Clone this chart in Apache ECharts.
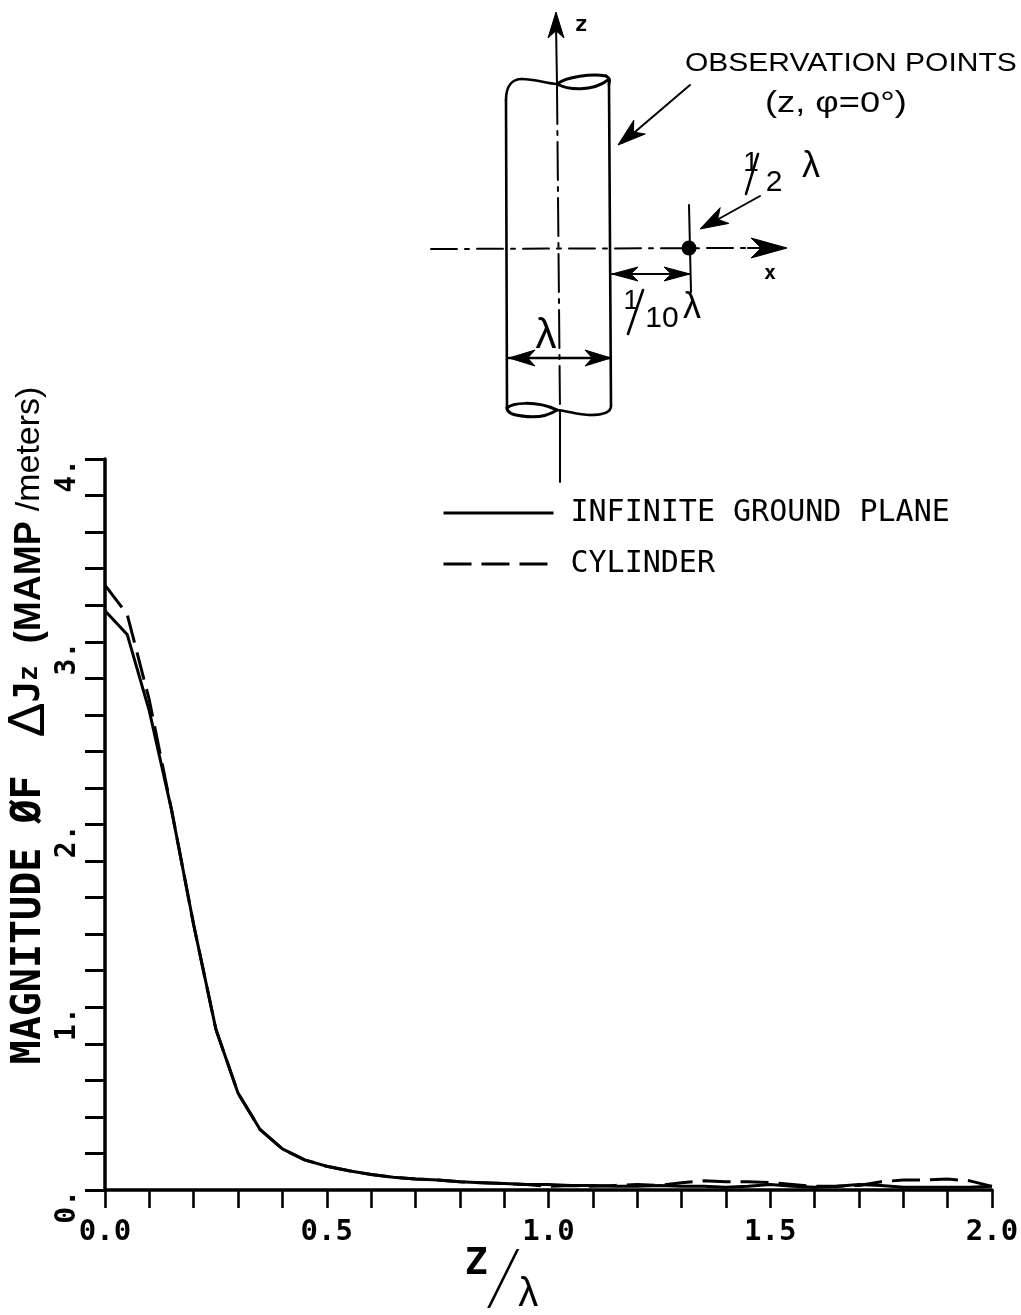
<!DOCTYPE html>
<html><head><meta charset="utf-8">
<script src="https://cdn.jsdelivr.net/npm/echarts@6/dist/echarts.min.js"></script>
<style>html,body{margin:0;padding:0;background:#fff}#c{width:1021px;height:1315px}</style>
</head><body><div id="c"></div>
<script>
const zOverLambda = [0,.05,.1,.15,.2,.25,.3,.35,.4,.45,.5,.55,.6,.65,.7,.75,.8,.85,.9,.95,1,1.05,1.1,1.15,1.2,1.25,1.3,1.35,1.4,1.45,1.5,1.55,1.6,1.65,1.7,1.75,1.8,1.85,1.9,1.95,2];
const infiniteGroundPlane = [3.17,3.04,2.62,2.08,1.45,.88,.53,.33,.225,.165,.13,.105,.085,.07,.06,.055,.045,.04,.035,.03,.03,.025,.025,.02,.02,.025,.02,.02,.015,.02,.03,.02,.015,.02,.03,.025,.015,.015,.015,.015,.02];
const cylinder = [3.31,3.15,2.68,2.08,1.45,.88,.53,.33,.225,.165,.13,.105,.085,.07,.06,.055,.045,.04,.035,.03,.02,.025,.02,.025,.03,.025,.04,.05,.045,.045,.04,.03,.02,.02,.025,.045,.055,.055,.06,.05,.02];
const seriesNames = ['INFINITE GROUND PLANE','CYLINDER'];
const yTitle = '{m|MAGNITUDE ØF }{d|Δ}{j|J}{z|z}{p| (MAMP }{u|/meters)}';
const xTitle = '{z|Z}{s|/}{l|λ}';

const MONO = '"DejaVu Sans Mono"', SANS = '"Liberation Sans"';
const ink = '#000';
const stroke = (w, dash) => ({stroke: ink, fill: null, lineWidth: w, lineDash: dash || null, lineCap: 'round'});
const line = (x1, y1, x2, y2, w, dash) => ({type: 'line', silent: true, shape: {x1, y1, x2, y2}, style: stroke(w, dash)});
const bez = (x1, y1, cpx1, cpy1, cpx2, cpy2, x2, y2, w) => ({type: 'bezierCurve', silent: true, shape: {x1, y1, cpx1, cpy1, cpx2, cpy2, x2, y2}, style: stroke(w)});
function head(xt, yt, xf, yf, len, half) {
  const a = Math.atan2(yf - yt, xf - xt), c = Math.cos(a), s = Math.sin(a);
  const bx = xt + len * c, by = yt + len * s, nx = xt + len * .72 * c, ny = yt + len * .72 * s;
  return {type: 'polygon', silent: true, shape: {points: [[xt, yt], [bx - half * s, by + half * c], [nx, ny], [bx + half * s, by - half * c]]}, style: {fill: ink, stroke: ink, lineWidth: 1}};
}
const txt = (x, y, text, font, size, o) => Object.assign({type: 'text', silent: true, x, y, style: {text, x: 0, y: 0, fill: ink, font: (o && o.w || 'normal') + ' ' + size + 'px ' + font, textAlign: o && o.a || 'left', textVerticalAlign: 'middle'}}, o && o.sx ? {scaleX: o.sx} : {});

const graphic = [
  // z axis
  line(556, 25, 557, 84, 2),
  line(557, 86, 560, 412, 2, [38, 7, 4, 7]),
  line(560, 412, 560, 482, 2),
  head(556, 12, 556, 40, 26, 8),
  // cylinder outline
  line(506, 100, 507, 408, 2.6),
  line(609, 84, 611, 406, 2.6),
  bez(506, 100, 506, 86, 512, 79, 522, 79, 2.6),
  bez(522, 79, 535, 79, 548, 84, 557, 84, 2.6),
  bez(557, 84, 566, 77, 592, 73, 606, 76, 3),
  bez(606, 76, 610, 78, 610, 80, 609, 84, 3),
  bez(557, 84, 568, 90, 592, 92, 608, 80, 3),
  bez(611, 406, 611, 414, 600, 415, 590, 415, 2.6),
  bez(590, 415, 578, 415, 568, 411, 557, 410, 2.6),
  bez(557, 410, 548, 416, 535, 418, 522, 416, 3),
  bez(522, 416, 512, 415, 507, 412, 507, 408, 3),
  bez(507, 408, 512, 403, 535, 400, 557, 410, 3),
  // x axis
  line(431, 249, 745, 248, 2, [26, 8, 4, 8]),
  line(748, 248, 775, 248, 2),
  head(787, 248, 752, 248, 36, 10),
  {type: 'circle', silent: true, shape: {cx: 689, cy: 248, r: 7.5}, style: {fill: ink}},
  line(689, 205, 691, 292, 2),
  // callouts
  line(690, 85, 622, 143, 2),
  head(618, 145, 690, 85, 28, 9),
  line(760, 196, 706, 226, 2),
  head(700, 229, 760, 196, 28, 9),
  // dimension arrows
  line(612, 274, 690, 274, 2),
  head(612, 274, 690, 274, 26, 7),
  head(690, 274, 612, 274, 26, 7),
  line(509, 358, 611, 358, 2.4),
  head(509, 358, 611, 358, 26, 8),
  head(611, 358, 509, 358, 26, 8),
  // fractions
  line(758, 154, 746, 194, 2.6),
  line(643, 290, 628, 334, 2.6),
  // labels
  txt(581, 25, 'z', MONO, 22, {w: 'bold', a: 'center'}),
  txt(770, 274, 'x', MONO, 20, {w: 'bold', a: 'center'}),
  txt(685, 64, 'OBSERVATION POINTS', SANS, 25, {sx: 1.2}),
  txt(765, 104, '(z, φ=0°)', SANS, 29, {sx: 1.25}),
  txt(751, 163, '1', SANS, 28, {a: 'center'}),
  txt(774, 183, '2', SANS, 30, {a: 'center'}),
  txt(811, 167, 'λ', SANS, 36, {a: 'center'}),
  txt(631, 302, '1', SANS, 27, {a: 'center'}),
  txt(662, 319, '10', SANS, 30, {a: 'center'}),
  txt(692, 308, 'λ', SANS, 36, {a: 'center'}),
  txt(546, 336, 'λ', SANS, 42, {a: 'center'})
];

const chart = echarts.init(document.getElementById('c'), null, {renderer: 'canvas'});
const pairs = v => v.map((y, i) => [zOverLambda[i], y]);
chart.setOption({
  animation: false,
  backgroundColor: '#fff',
  grid: {left: 105, right: 29, top: 459, bottom: 125, containLabel: false, outerBoundsMode: 'none'},
  legend: {
    orient: 'vertical', left: 442, top: 498, padding: 0, itemGap: 21, itemWidth: 110, itemHeight: 20,
    data: seriesNames,
    itemStyle: {opacity: 0},
    lineStyle: {width: 3},
    textStyle: {color: ink, fontFamily: MONO, fontSize: 30, padding: [0, 0, 0, 12]}
  },
  xAxis: {
    type: 'value', min: 0, max: 2, interval: .5,
    axisLine: {onZero: false, lineStyle: {color: ink, width: 3.5}},
    axisTick: {length: 18, lineStyle: {color: ink, width: 2.6}},
    minorTick: {show: true, splitNumber: 5, length: 18, lineStyle: {color: ink, width: 2.6}},
    splitLine: {show: false}, minorSplitLine: {show: false},
    axisLabel: {color: ink, fontFamily: MONO, fontWeight: 'bold', fontSize: 29, margin: 28, formatter: v => v.toFixed(1), showMinLabel: true, showMaxLabel: true, hideOverlap: false},
    name: xTitle, nameLocation: 'middle', nameGap: 55, nameMoveOverlap: false,
    nameTextStyle: {
      padding: [0, 94, 0, 0],
      rich: {
        z: {fontFamily: MONO, fontWeight: 'bold', fontSize: 38, color: ink, verticalAlign: 'top', lineHeight: 38},
        s: {fontFamily: 'Lato', fontWeight: 300, fontStyle: 'italic', fontSize: 76, color: ink, lineHeight: 70, height: 70},
        l: {fontFamily: SANS, fontSize: 40, color: ink, verticalAlign: 'bottom', lineHeight: 40}
      }
    }
  },
  yAxis: {
    type: 'value', min: 0, max: 4, interval: 1,
    axisLine: {onZero: false, lineStyle: {color: ink, width: 3.5}},
    axisTick: {length: 20, lineStyle: {color: ink, width: 3}},
    minorTick: {show: true, splitNumber: 5, length: 20, lineStyle: {color: ink, width: 3}},
    splitLine: {show: false}, minorSplitLine: {show: false},
    axisLabel: {color: ink, fontFamily: MONO, fontWeight: 'bold', fontSize: 28, rotate: 90, margin: 37, align: 'right', verticalAlign: 'middle', formatter: v => v.toFixed(0) + '.', showMinLabel: true, showMaxLabel: true, hideOverlap: false},
    name: yTitle, nameLocation: 'middle', nameRotate: 90, nameGap: 49, nameMoveOverlap: false,
    nameTextStyle: {
      padding: [0, 0, 0, 198],
      rich: {
        m: {fontFamily: MONO, fontWeight: 'bold', fontSize: 40, color: ink},
        d: {fontFamily: SANS, fontSize: 52, color: ink, padding: [0, 0, 0, 14]},
        j: {fontFamily: MONO, fontWeight: 'bold', fontSize: 36, color: ink},
        z: {fontFamily: MONO, fontWeight: 'bold', fontSize: 26, color: ink},
        p: {fontFamily: SANS, fontWeight: 'bold', fontSize: 36, color: ink, padding: [0, 0, 0, 12]},
        u: {fontFamily: SANS, fontSize: 34, color: ink}
      }
    }
  },
  series: [
    {name: seriesNames[0], type: 'line', data: pairs(infiniteGroundPlane), symbol: 'none', smooth: false, lineStyle: {color: ink, width: 3}, itemStyle: {color: ink}},
    {name: seriesNames[1], type: 'line', data: pairs(cylinder), symbol: 'none', smooth: false, lineStyle: {color: ink, width: 3, type: [28, 10]}, itemStyle: {color: ink}}
  ],
  graphic: {elements: graphic}
});
</script></body></html>
